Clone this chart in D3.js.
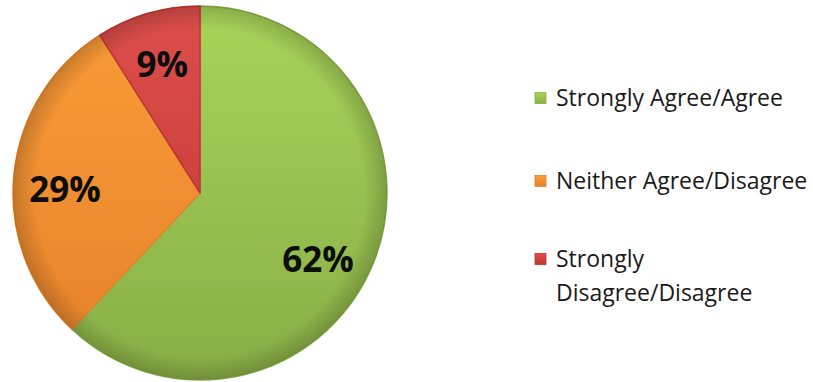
<!DOCTYPE html>
<html>
  <head>
    <title>Agreement</title>
    <script src="https://d3js.org/d3.v7.min.js"></script>
    <style>
      body { margin: 0; background: #ffffff; }
      .slice__label {
        font-family: "Open Sans", sans-serif;
        font-weight: bold;
        font-size: 35px;
        fill: #0d0d0d;
        text-anchor: middle;
        dominant-baseline: central;
      }
      .legend text {
        font-family: "Open Sans", sans-serif;
        font-size: 23px;
        fill: #1a1a1a;
      }
    </style>
  </head>
  <body>
    <svg width="813" height="382"></svg>
    <script>
      const categories = ["Strongly Agree/Agree", "Neither Agree/Disagree", "Strongly Disagree/Disagree"];
      const values = [62, 29, 9];
      const legendLines = [["Strongly Agree/Agree"], ["Neither Agree/Disagree"], ["Strongly", "Disagree/Disagree"]];
      const colorsTop = ["#a9d35a", "#fa9c38", "#dc4e4b"];
      const colorsBottom = ["#88ae46", "#e5812a", "#bd3634"];

      const svg = d3.select("svg");
      const cx = 200, cy = 193, radius = 187;
      // small angular nudge of each label (radians), like Excel's best-fit placement
      const labelShift = [0.13, -0.06, 0];

      const data = categories.map((c, i) => ({category: c, value: values[i], i}));

      const defs = svg.append("defs");
      data.forEach(d => {
        const grad = defs.append("linearGradient")
            .attr("id", "grad" + d.i)
            .attr("gradientUnits", "userSpaceOnUse")
            .attr("x1", 0).attr("y1", -radius)
            .attr("x2", 0).attr("y2", radius);
        grad.append("stop").attr("offset", "0%").attr("stop-color", colorsTop[d.i]);
        grad.append("stop").attr("offset", "100%").attr("stop-color", colorsBottom[d.i]);

        const sq = defs.append("linearGradient")
            .attr("id", "sq" + d.i)
            .attr("x1", 0).attr("y1", 0).attr("x2", 0).attr("y2", 1);
        sq.append("stop").attr("offset", "0%").attr("stop-color", colorsTop[d.i]);
        sq.append("stop").attr("offset", "100%").attr("stop-color", colorsBottom[d.i]);
      });

      // soft darkening toward the rim
      const rim = defs.append("radialGradient").attr("id", "rim");
      rim.append("stop").attr("offset", "88%").attr("stop-color", "#000").attr("stop-opacity", 0);
      rim.append("stop").attr("offset", "100%").attr("stop-color", "#000").attr("stop-opacity", 0.18);

      const pie = d3.pie()
        .sort(null)
        .value(d => d.value);

      const arc = d3.arc()
        .innerRadius(0)
        .outerRadius(radius);

      const labelArc = d3.arc()
        .innerRadius(135)
        .outerRadius(135);

      const g = svg.append("g")
          .attr("transform", `translate(${cx}, ${cy})`);

      const arcs = pie(data);

      g.selectAll("path.slice")
        .data(arcs)
        .enter().append("path")
          .attr("class", "slice")
          .attr("d", arc)
          .attr("fill", d => `url(#grad${d.data.i})`)
          .attr("stroke", d => colorsBottom[d.data.i])
          .attr("stroke-width", 1.5)
          .attr("stroke-linejoin", "round");

      g.append("circle")
        .attr("r", radius)
        .attr("fill", "url(#rim)")
        .attr("pointer-events", "none");

      g.selectAll("text.slice__label")
        .data(arcs)
        .enter().append("text")
          .attr("class", "slice__label")
          .attr("transform", d => {
            const s = labelShift[d.data.i];
            return `translate(${labelArc.centroid({startAngle: d.startAngle + s, endAngle: d.endAngle + s})})`;
          })
          .text(d => d.data.value + "%");

      const rowY = [98, 181, 259];
      const legend = svg.append("g")
          .attr("class", "legend")
          .attr("transform", "translate(535, 0)");

      const items = legend.selectAll("g")
        .data(data)
        .enter().append("g")
          .attr("transform", d => `translate(0, ${rowY[d.i]})`);

      items.append("rect")
        .attr("x", 0)
        .attr("y", -5.5)
        .attr("width", 11)
        .attr("height", 11)
        .attr("fill", d => `url(#sq${d.i})`)
        .attr("stroke", d => colorsBottom[d.i])
        .attr("stroke-width", 0.8);

      items.append("text")
        .attr("x", 21)
        .attr("y", 8)
        .selectAll("tspan")
        .data(d => legendLines[d.i])
        .enter().append("tspan")
          .attr("x", 21)
          .attr("dy", (d, j) => j === 0 ? 0 : 34)
          .text(d => d);
    </script>
  </body>
</html>
